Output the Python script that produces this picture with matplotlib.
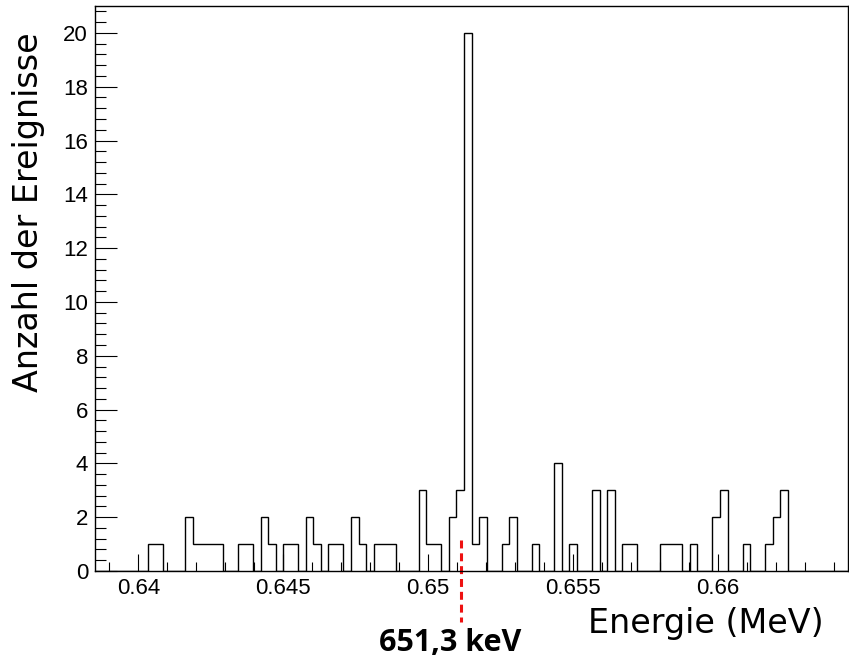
import numpy as np
import matplotlib.pyplot as plt
from matplotlib.ticker import MultipleLocator, FuncFormatter

# histogram: 100 bins between 0.6385 and 0.6645 MeV
e_min = 0.6385
e_max = 0.6645
n_bins = 100
# (bin index, count) for non-empty bins
bin_idx = [7, 8, 12, 13, 14, 15, 16, 19, 20, 22, 23, 25, 26, 28, 29, 31, 32,
           34, 35, 37, 38, 39, 43, 44, 45, 47, 48, 49, 50, 51, 54, 55, 58,
           61, 63, 66, 68, 70, 71, 75, 76, 77, 79, 82, 83, 86, 89, 90, 91]
bin_cnt = [1, 1, 2, 1, 1, 1, 1, 1, 1, 2, 1, 1, 1, 2, 1, 1, 1,
           2, 1, 1, 1, 1, 3, 1, 1, 2, 3, 20, 1, 2, 1, 2, 1,
           4, 1, 3, 3, 1, 1, 1, 1, 1, 1, 2, 3, 1, 1, 2, 3]
x_ticks = [0.64, 0.645, 0.65, 0.655, 0.66]
marker_x = 0.65113
marker_text = "651,3 keV"

counts = np.zeros(n_bins)
counts[bin_idx] = bin_cnt
edges = np.linspace(e_min, e_max, n_bins + 1)

fig = plt.figure(figsize=(8.49, 6.59), dpi=100)
ax = fig.add_axes([95/849, 1 - 571/659, 753/849, 565/659])

ax.stairs(counts, edges, color='black', lw=1.0)

ax.set_xlim(e_min, e_max)
ax.set_ylim(0, 21)

ax.set_xticks(x_ticks)
ax.xaxis.set_minor_locator(MultipleLocator(0.001))
ax.xaxis.set_major_formatter(FuncFormatter(lambda v, p: '%g' % round(v, 4)))
ax.yaxis.set_major_locator(MultipleLocator(2))
ax.yaxis.set_minor_locator(MultipleLocator(0.4))

for lab in ax.get_xticklabels() + ax.get_yticklabels():
    lab.set_family('Liberation Sans')
ax.tick_params(axis='both', which='both', direction='in', labelsize=16)
ax.tick_params(axis='x', which='major', length=12, width=0.8, pad=5)
ax.tick_params(axis='x', which='minor', length=6.5, width=0.8)
ax.tick_params(axis='y', which='major', length=16, width=0.8, pad=5)
ax.tick_params(axis='y', which='minor', length=8, width=0.8)
for s in ax.spines.values():
    s.set_linewidth(1.0)

fig.text(29/849, 1 - 212/659, "Anzahl der Ereignisse", rotation=90,
         ha='center', va='center', fontsize=24, family='DejaVu Sans')
fig.text(824/849, 1 - 624/659, "Energie (MeV)", ha='right', va='center',
         fontsize=24, family='DejaVu Sans')

# red marker below the peak
ax.plot([marker_x, marker_x], [0.055, -0.09], color='#ee1111', lw=2.2,
        dashes=(2.6, 1.6), transform=ax.get_xaxis_transform(), clip_on=False)
fig.text(450/849, 1 - 643/659, marker_text, ha='center', va='center',
         fontsize=22, family='Open Sans', weight='bold')

fig.savefig('out.png', dpi=100)
